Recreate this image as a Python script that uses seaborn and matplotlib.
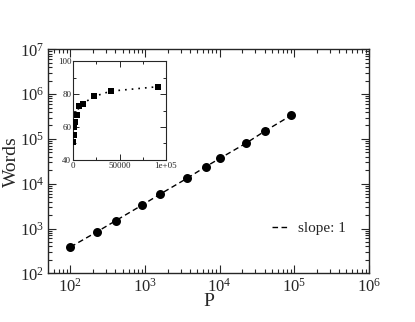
"""Words vs P, log-log, with linear-scale inset."""

import matplotlib

matplotlib.use("Agg")
import matplotlib.pyplot as plt
import numpy as np
import pandas as pd
import seaborn as sns
from matplotlib.ticker import LogLocator, MultipleLocator, NullFormatter

# data
P = [100, 228, 405, 902, 1603, 3650, 6494, 10100, 22750, 40460, 91200]
WORDS = [387, 851, 1500, 3300, 5900, 13200, 24000, 36900, 81000, 150000, 336000]
INSET_Y = [50.6, 55.3, 60.1, 61.8, 63.2, 67.2, 73.0, 74.2, 78.6, 81.8, 84.5]

sns.set_style("ticks")
plt.rcParams["font.family"] = ["Liberation Serif", "DejaVu Serif"]
plt.rcParams["mathtext.fontset"] = "stix"

df = pd.DataFrame({"P": P, "WORDS": WORDS, "INSET": INSET_Y})

fig = plt.figure(figsize=(4.15, 3.22), dpi=100)
ax = fig.add_axes([0.1164, 0.151, 0.7726, 0.696])

sns.lineplot(data=df, x="P", y="WORDS", ax=ax, color="black",
             linewidth=1.0, linestyle=(0, (4, 2.5)), label="slope: 1")
sns.scatterplot(data=df, x="P", y="WORDS", ax=ax, color="black",
                s=42, edgecolor="black", linewidth=0, zorder=3)
ax.set_xscale("log")
ax.set_yscale("log")
ax.set_xlim(50.5, 1e6)
ax.set_ylim(1e2, 1e7)
ax.xaxis.set_major_locator(LogLocator(base=10, numticks=10))
ax.yaxis.set_major_locator(LogLocator(base=10, numticks=10))
ax.xaxis.set_minor_locator(LogLocator(base=10, subs=np.arange(2, 10), numticks=20))
ax.yaxis.set_minor_locator(LogLocator(base=10, subs=np.arange(2, 10), numticks=20))
ax.xaxis.set_minor_formatter(NullFormatter())
ax.yaxis.set_minor_formatter(NullFormatter())
ax.tick_params(which="both", direction="in", top=True, right=True,
               labelsize=12, width=0.8)
ax.tick_params(which="major", length=6, pad=3)
ax.tick_params(which="minor", length=3)
for s in ax.spines.values():
    s.set_linewidth(1.0)
ax.set_xlabel("P", fontsize=14, labelpad=-2)
ax.set_ylabel("Words", fontsize=14, labelpad=0)
ax.legend(loc="lower right", frameon=False, fontsize=11, handlelength=1.2,
          handletextpad=0.5, bbox_to_anchor=(0.97, 0.11))

# inset
ins = fig.add_axes([0.1767, 0.504, 0.2226, 0.3056])
sns.lineplot(data=df, x="P", y="INSET", ax=ins, color="black",
             linewidth=1.2, linestyle=(0, (1, 3)))
sns.scatterplot(data=df, x="P", y="INSET", ax=ins, color="black",
                marker="s", s=14, edgecolor="black", linewidth=0, zorder=3)
ins.set_xlim(0, 1e5)
ins.set_ylim(40, 100)
ins.set_xticks([0, 50000, 100000])
ins.set_xticklabels(["0", "50000", "1e+05"])
ins.set_yticks([40, 60, 80, 100])
ins.xaxis.set_minor_locator(MultipleLocator(25000))
ins.yaxis.set_minor_locator(MultipleLocator(10))
ins.tick_params(which="both", direction="in", top=True, right=True,
                labelsize=6.5, width=0.7, pad=1.5)
ins.tick_params(which="major", length=4)
ins.tick_params(which="minor", length=2)
ins.set_xlabel("")
ins.set_ylabel("")
for s in ins.spines.values():
    s.set_linewidth(0.8)

fig.savefig("out.png", dpi=100)
